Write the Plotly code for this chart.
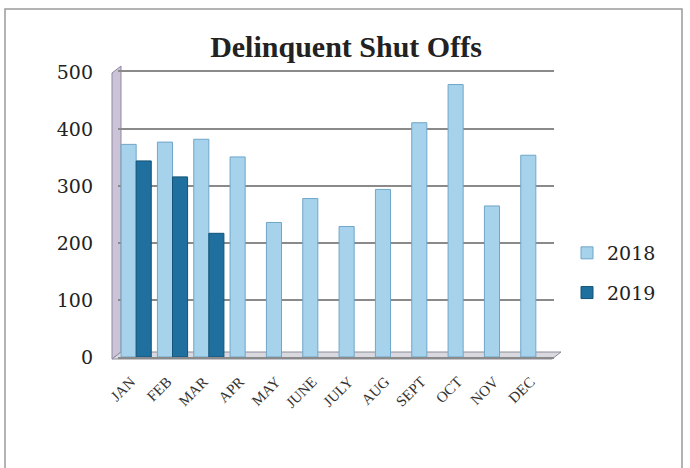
import plotly.graph_objects as go

months = ["JAN", "FEB", "MAR", "APR", "MAY", "JUNE", "JULY", "AUG", "SEPT", "OCT", "NOV", "DEC"]
y2018 = [373, 377, 382, 351, 236, 278, 229, 294, 411, 478, 265, 354]
y2019 = [344, 316, 217, None, None, None, None, None, None, None, None, None]
yticks = [0, 100, 200, 300, 400, 500]

W, H = 690, 468
L, R, T, B = 118, 554, 72, 357


def px(x):
    return (x - L) / (R - L)


def py(y):
    return (B - y) / (B - T)


fig = go.Figure()
fig.add_trace(go.Bar(x=months, y=y2018, name="2018", legendgroup="a",
                     marker=dict(color="#a6d2ec", line=dict(color="#6fa6c9", width=1))))
fig.add_trace(go.Bar(x=months, y=y2019, name="2019", legendgroup="b",
                     marker=dict(color="#1f6f9f", line=dict(color="#135479", width=1))))

shapes = [
    # outer frame
    dict(type="rect", xref="paper", yref="paper", x0=px(5), x1=px(682), y0=py(478), y1=py(9),
         line=dict(color="#9a9a9a", width=1.5), layer="below"),
    # left side wall
    dict(type="path", xref="paper", yref="paper",
         path=f"M {px(112)},{py(359)} L {px(112)},{py(73)} L {px(121)},{py(66)} L {px(121)},{py(352)} Z",
         fillcolor="#cbc4d6", line=dict(color="#9087a3", width=1), layer="below"),
    # floor
    dict(type="path", xref="paper", yref="paper",
         path=f"M {px(112)},{py(359)} L {px(121)},{py(352)} L {px(561)},{py(352)} L {px(552)},{py(359)} Z",
         fillcolor="#d9d9df", line=dict(color="#8c8c9a", width=1), layer="below"),
]

fig.update_layout(
    width=W, height=H,
    margin=dict(l=L, r=W - R, t=T, b=H - B, pad=0),
    paper_bgcolor="white", plot_bgcolor="white",
    barmode="group", bargap=0.17, bargroupgap=0,
    title=dict(text="<b>Delinquent Shut Offs</b>", x=346 / W, xanchor="center",
               y=1 - 46 / H, yanchor="middle",
               font=dict(family="Liberation Serif", size=30, color="#222222")),
    font=dict(family="DejaVu Serif", color="#222222"),
    xaxis=dict(tickangle=-45, tickfont=dict(family="Liberation Serif", size=15, color="#333333"),
               ticksuffix="\u00a0\u00a0", ticklabelstandoff=3,
               showgrid=False, showline=True, mirror=True, linecolor="#8a8a8a", linewidth=1.5,
               ticks=""),
    yaxis=dict(range=[0, 500], tickvals=yticks, ticktext=[str(v) for v in yticks],
               tickfont=dict(family="DejaVu Serif", size=19, color="#222222"), showgrid=True,
               gridcolor="#8a8a8a", gridwidth=1.5, zeroline=False, showline=False,
               ticks="", ticklabelstandoff=24),
    legend=dict(x=px(567), y=py(234), xanchor="left", yanchor="top",
                font=dict(family="DejaVu Serif", size=19, color="#222222"), tracegroupgap=12,
                traceorder="grouped", itemwidth=30, bgcolor="rgba(0,0,0,0)"),
    shapes=shapes,
)

fig.write_html("out.html", post_script="document.body.style.margin='0';",
               config={"displayModeBar": False})
